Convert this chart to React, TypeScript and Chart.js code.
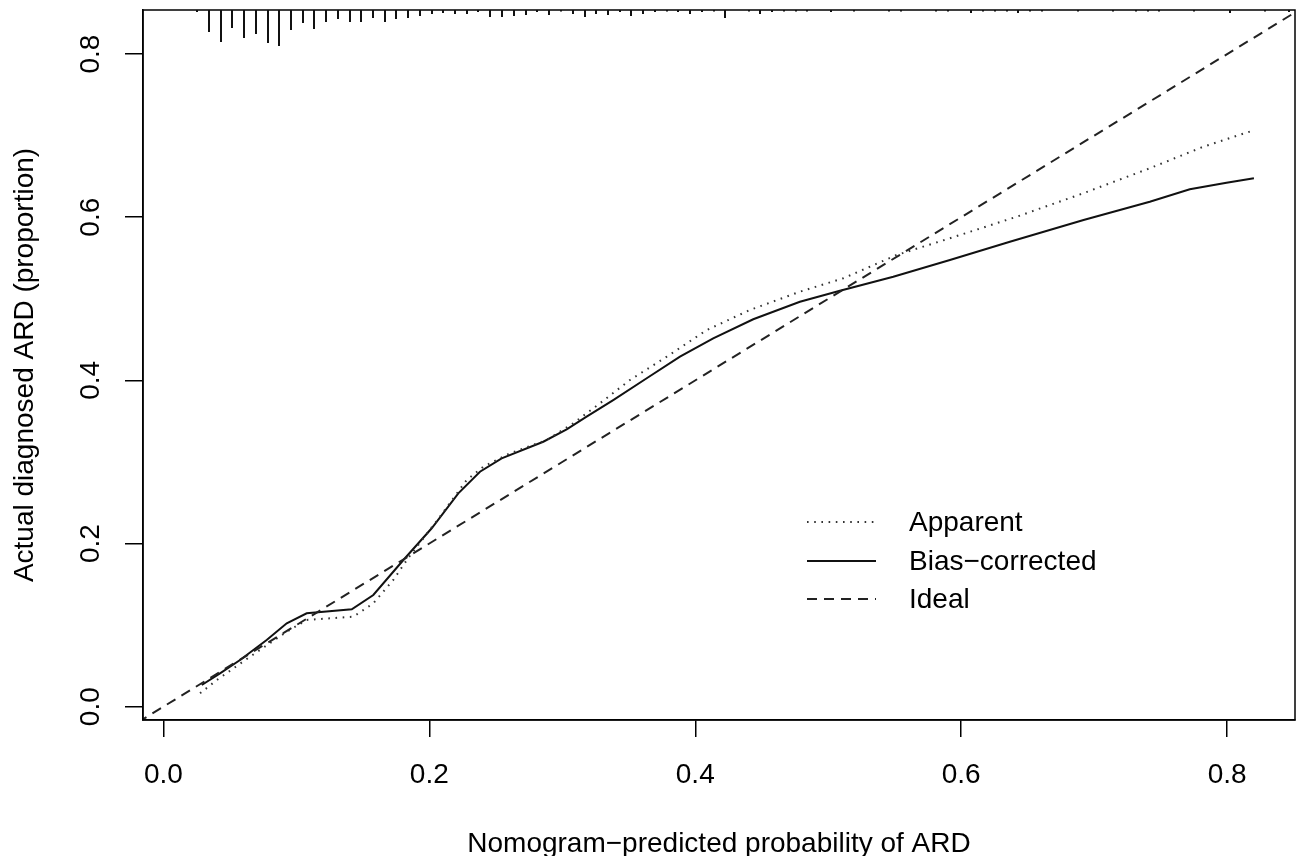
import React, { useEffect, useRef } from "react";
import { Chart, registerables } from "chart.js";

Chart.register(...registerables);

// ---------- data ----------
const X_MIN = -0.0153;
const X_MAX = 0.851;
const Y_MIN = -0.0163;
const Y_MAX = 0.854;

const X_TICKS = [0.0, 0.2, 0.4, 0.6, 0.8];
const Y_TICKS = [0.0, 0.2, 0.4, 0.6, 0.8];

const X_TITLE = "Nomogram\u2212predicted probability of ARD";
const Y_TITLE = "Actual diagnosed ARD (proportion)";

const LEGEND_LABELS = ["Apparent", "Bias\u2212corrected", "Ideal"];

const APPARENT_X = [
  0.0276, 0.0402, 0.0652, 0.0928, 0.1078, 0.1429, 0.1579, 0.1729, 0.184,
  0.208, 0.2281, 0.2406, 0.2607, 0.2883, 0.3083, 0.3283, 0.3509, 0.3785,
  0.4086, 0.4411, 0.4787, 0.5113, 0.5514, 0.5915, 0.6417, 0.6917, 0.7418,
  0.782, 0.8184,
];
const APPARENT_Y = [
  0.0164, 0.0327, 0.0613, 0.0919, 0.1063, 0.1103, 0.1267, 0.1553, 0.182,
  0.2329, 0.2779, 0.2942, 0.3106, 0.3269, 0.3474, 0.3719, 0.4005, 0.429,
  0.4617, 0.4863, 0.5087, 0.5251, 0.5537, 0.5742, 0.6006, 0.6293, 0.66,
  0.6864, 0.7057,
];

const BIAS_X = [
  0.0289, 0.0426, 0.0577, 0.0677, 0.0777, 0.0928, 0.1078, 0.1417, 0.1579,
  0.1805, 0.2018, 0.2218, 0.2381, 0.2544, 0.2857, 0.3033, 0.3183, 0.3383,
  0.3635, 0.3885, 0.4135, 0.4436, 0.4787, 0.5088, 0.5489, 0.5915, 0.6366,
  0.692, 0.7418, 0.7719, 0.7995, 0.8201,
];
const BIAS_Y = [
  0.0266, 0.0409, 0.0572, 0.0695, 0.0818, 0.1022, 0.1145, 0.1194, 0.1369,
  0.1798, 0.2187, 0.2616, 0.2881, 0.3045, 0.3248, 0.34, 0.3555, 0.3759,
  0.4026, 0.429, 0.4516, 0.4749, 0.4964, 0.5099, 0.5271, 0.5475, 0.57,
  0.5966, 0.619, 0.6342, 0.6423, 0.6477,
];

const IDEAL_X = [-0.03, 0.87];
const IDEAL_Y = [-0.03, 0.87];

// distribution of predicted probabilities (rug at top): location and relative frequency
const RUG_X = [
  0.0254, 0.0344, 0.0431, 0.0519, 0.0609, 0.0698, 0.0785, 0.0873, 0.0961,
  0.1051, 0.1136, 0.1224, 0.1312, 0.1402, 0.1488, 0.1578, 0.1665, 0.1753,
  0.1841, 0.1929, 0.2017, 0.2105, 0.2192, 0.228, 0.2368, 0.246, 0.2549,
  0.2636, 0.2724, 0.2812, 0.2899, 0.2987, 0.308, 0.3168, 0.3256, 0.3343,
  0.3431, 0.3519, 0.3609, 0.3697, 0.3785, 0.3873, 0.3963, 0.405, 0.4138,
  0.4226, 0.4402, 0.449, 0.4577, 0.4667, 0.4755, 0.4843, 0.5019, 0.5194,
  0.5457, 0.5546, 0.5809, 0.5901, 0.6077, 0.6165, 0.6253, 0.6341, 0.6428,
  0.6516, 0.6604, 0.6875, 0.7138, 0.7314, 0.7402, 0.7489, 0.7752, 0.8021,
  0.8284, 0.8467,
];
const RUG_FREQ = [
  2, 22, 32, 18, 28, 24, 33, 36, 20, 13, 19, 12, 9, 12, 12, 8, 12, 9, 8, 6,
  4, 3, 4, 4, 2, 7, 7, 6, 5, 2, 5, 1.5, 4, 7, 4, 5, 2, 6, 4, 2, 1.5, 2, 4,
  2, 1.5, 8, 1.5, 4, 2, 1.5, 1.5, 1.5, 2, 1.5, 1.5, 1.5, 1.5, 1.5, 3, 1.5,
  1.5, 1.5, 3, 1.5, 1.5, 1.5, 1.5, 1.5, 1.5, 1.5, 1.5, 3, 1.5, 2,
];

// ---------- helpers ----------
const FONT_FAMILY = "'Liberation Sans', Arial, Helvetica, sans-serif";
const toPoints = (xs: number[], ys: number[]) => xs.map((x, i) => ({ x, y: ys[i] }));

const boxPlugin = {
  id: "boxPlugin",
  afterDatasetsDraw(chart: any) {
    const { ctx, chartArea } = chart;
    ctx.save();
    ctx.strokeStyle = "#000";
    ctx.lineWidth = 1.5;
    ctx.strokeRect(chartArea.left, chartArea.top, chartArea.right - chartArea.left, chartArea.bottom - chartArea.top);
    ctx.restore();
  },
};

const rugPlugin = {
  id: "rugPlugin",
  afterDatasetsDraw(chart: any) {
    const { ctx, chartArea } = chart;
    const xs = chart.scales.x;
    ctx.save();
    ctx.strokeStyle = "#111";
    ctx.lineWidth = 2;
    ctx.lineCap = "butt";
    RUG_X.forEach((v, i) => {
      const px = Math.round(xs.getPixelForValue(v));
      ctx.beginPath();
      ctx.moveTo(px, chartArea.top);
      ctx.lineTo(px, chartArea.top + RUG_FREQ[i]);
      ctx.stroke();
    });
    ctx.restore();
  },
};

const legendPlugin = {
  id: "calLegend",
  afterDatasetsDraw(chart: any) {
    const { ctx } = chart;
    const order = [1, 2, 0]; // Apparent, Bias-corrected, Ideal
    const rowsY = [522, 561, 599];
    ctx.save();
    ctx.font = `28px ${FONT_FAMILY}`;
    ctx.textBaseline = "middle";
    ctx.textAlign = "left";
    order.forEach((dsIndex, r) => {
      const ds = chart.data.datasets[dsIndex];
      ctx.beginPath();
      ctx.strokeStyle = ds.borderColor;
      ctx.lineWidth = ds.borderWidth;
      ctx.setLineDash(ds.borderDash || []);
      ctx.moveTo(807, rowsY[r]);
      ctx.lineTo(876, rowsY[r]);
      ctx.stroke();
      ctx.setLineDash([]);
      ctx.fillStyle = "#000";
      ctx.fillText(LEGEND_LABELS[r], 909, rowsY[r] + 1);
    });
    ctx.restore();
  },
};

export default function App() {
  const canvasRef = useRef<HTMLCanvasElement | null>(null);

  useEffect(() => {
    if (!canvasRef.current) return;
    Chart.defaults.font.family = FONT_FAMILY;
    Chart.defaults.color = "#000";

    const chart = new Chart(canvasRef.current, {
      type: "scatter",
      data: {
        datasets: [
          {
            label: LEGEND_LABELS[2],
            data: toPoints(IDEAL_X, IDEAL_Y),
            showLine: true,
            borderColor: "#222",
            borderWidth: 2,
            borderDash: [10, 7],
            pointRadius: 0,
            pointHoverRadius: 0,
          },
          {
            label: LEGEND_LABELS[0],
            data: toPoints(APPARENT_X, APPARENT_Y),
            showLine: true,
            borderColor: "#333",
            borderWidth: 2,
            borderDash: [1.6, 5.6],
            pointRadius: 0,
            pointHoverRadius: 0,
          },
          {
            label: LEGEND_LABELS[1],
            data: toPoints(BIAS_X, BIAS_Y),
            showLine: true,
            borderColor: "#111",
            borderWidth: 2,
            pointRadius: 0,
            pointHoverRadius: 0,
          },
        ],
      } as any,
      options: {
        animation: false,
        responsive: false,
        devicePixelRatio: 1,
        layout: { padding: { top: 10, right: 1, left: 0, bottom: 0 } },
        plugins: {
          legend: { display: false },
          tooltip: { enabled: false },
        },
        scales: {
          x: {
            type: "linear",
            position: "bottom",
            min: X_MIN,
            max: X_MAX,
            afterBuildTicks: (s: any) => {
              s.ticks = X_TICKS.map((v) => ({ value: v }));
            },
            afterFit: (s: any) => {
              s.height = 136;
              s.paddingLeft = 0;
              s.paddingRight = 0;
            },
            grid: {
              drawOnChartArea: false,
              drawTicks: true,
              tickLength: 17,
              color: "#000",
              lineWidth: 1.5,
            },
            border: { display: true, color: "#000", width: 1.5 },
            ticks: {
              autoSkip: false,
              maxRotation: 0,
              minRotation: 0,
              padding: 21,
              color: "#000",
              font: { size: 28, family: FONT_FAMILY },
              callback: (v: any) => Number(v).toFixed(1),
            },
            title: {
              display: true,
              text: X_TITLE,
              color: "#000",
              font: { size: 28, family: FONT_FAMILY, lineHeight: 1 },
              padding: { top: 0, bottom: -2 },
            },
          },
          y: {
            type: "linear",
            position: "left",
            min: Y_MIN,
            max: Y_MAX,
            afterBuildTicks: (s: any) => {
              s.ticks = Y_TICKS.map((v) => ({ value: v }));
            },
            afterFit: (s: any) => {
              s.width = 143;
              s.paddingTop = 0;
              s.paddingBottom = 0;
            },
            grid: {
              drawOnChartArea: false,
              drawTicks: true,
              tickLength: 18,
              color: "#000",
              lineWidth: 1.5,
            },
            border: { display: true, color: "#000", width: 1.5 },
            ticks: {
              autoSkip: false,
              minRotation: 90,
              maxRotation: 90,
              crossAlign: "center",
              padding: 14,
              color: "#000",
              font: { size: 28, family: FONT_FAMILY },
              callback: (v: any) => Number(v).toFixed(1),
            },
            title: {
              display: true,
              text: Y_TITLE,
              color: "#000",
              font: { size: 28, family: FONT_FAMILY, lineHeight: 1 },
              padding: { top: 11, bottom: 0 },
            },
          },
        },
      } as any,
      plugins: [boxPlugin, rugPlugin, legendPlugin],
    });

    return () => {
      chart.destroy();
    };
  }, []);

  return (
    <div style={{ position: "fixed", left: 0, top: 0, width: 1296, height: 856, background: "#fff" }}>
      <canvas ref={canvasRef} width={1296} height={856} style={{ display: "block", width: 1296, height: 856 }} />
    </div>
  );
}
